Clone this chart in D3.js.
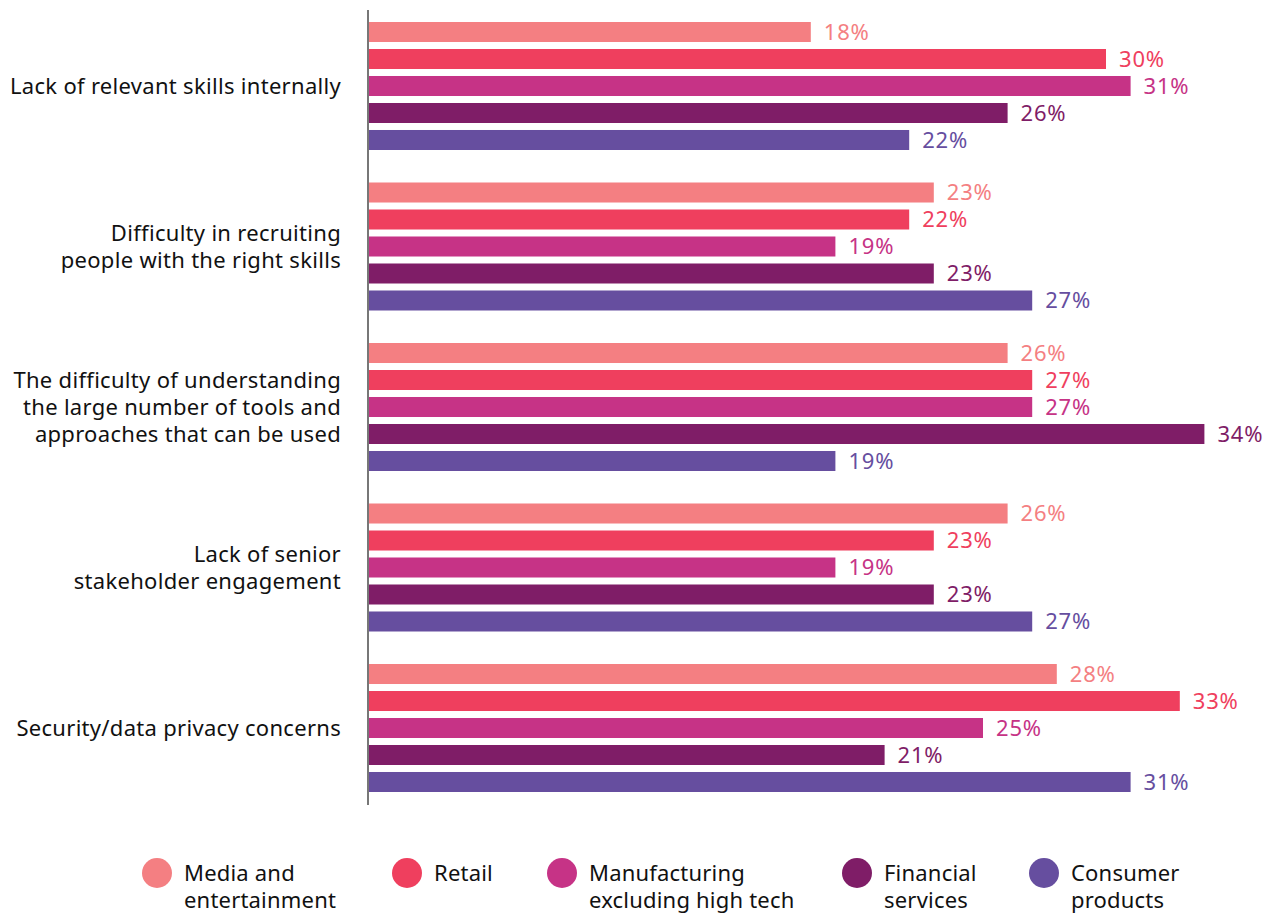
<!DOCTYPE html>
<html>
<head>
<meta charset="utf-8">
<script src="https://cdn.jsdelivr.net/npm/d3@7"></script>
<style>
  body { margin: 0; background: #fff; }
  svg text { font-family: "Noto Sans", "Open Sans", sans-serif; }
</style>
</head>
<body>
<svg id="chart" width="1270" height="913"></svg>
<script>
// categories (each label split into lines as in the source)
const categories = [
    ["Lack of relevant skills internally"],
    ["Difficulty in recruiting", "people with the right skills"],
    ["The difficulty of understanding", "the large number of tools and", "approaches that can be used"],
    ["Lack of senior", "stakeholder engagement"],
    ["Security/data privacy concerns"]
];
const series = ["Media and entertainment", "Retail", "Manufacturing excluding high tech", "Financial services", "Consumer products"];
const seriesLines = [["Media and", "entertainment"], ["Retail"], ["Manufacturing", "excluding high tech"], ["Financial", "services"], ["Consumer", "products"]];
const colors = ["#f47f82", "#ef3f5e", "#c63386", "#7f1d67", "#664e9f"];

// values in %, one array per series, in category order
const media         = [18, 23, 26, 26, 28];
const retail        = [30, 22, 27, 23, 33];
const manufacturing = [31, 19, 27, 19, 25];
const financial     = [26, 23, 34, 23, 21];
const consumer      = [22, 27, 19, 27, 31];
const values = [media, retail, manufacturing, financial, consumer];

const svg = d3.select("#chart");
const x0 = 368;

const x = d3.scaleLinear().domain([0, 40]).range([x0, x0 + 40 * 24.6]);
const y = d3.scaleBand().domain(d3.range(categories.length)).range([22, 792]).paddingInner(0.2025).paddingOuter(0);
const yi = d3.scaleBand().domain(d3.range(series.length)).range([0, y.bandwidth()]).paddingInner(0.259).paddingOuter(0);
const color = d3.scaleOrdinal().domain(d3.range(series.length)).range(colors);

const rows = [];
categories.forEach((c, ci) => {
    series.forEach((s, si) => rows.push({ci, si, v: values[si][ci]}));
});

const g = svg.append("g");

g.selectAll("rect.bar").data(rows).join("rect")
    .attr("class", "bar")
    .attr("x", x(0))
    .attr("y", d => y(d.ci) + yi(d.si))
    .attr("width", d => x(d.v) - x(0))
    .attr("height", yi.bandwidth())
    .attr("fill", d => color(d.si));

g.selectAll("text.val").data(rows).join("text")
    .attr("class", "val")
    .attr("x", d => x(d.v) + 13)
    .attr("y", d => y(d.ci) + yi(d.si) + yi.bandwidth() / 2)
    .attr("dy", "0.36em")
    .attr("font-size", 22)
    .attr("letter-spacing", 0.8)
    .attr("fill", d => color(d.si))
    .text(d => d.v + "%");

// axis line
svg.append("line")
    .attr("x1", x0).attr("x2", x0)
    .attr("y1", 10).attr("y2", 805)
    .attr("stroke", "#777").attr("stroke-width", 2);

// category labels
const lh = 27;
const cat = svg.selectAll("text.cat").data(categories).join("text")
    .attr("class", "cat")
    .attr("text-anchor", "end")
    .attr("font-size", 22)
    .attr("letter-spacing", 0.3)
    .attr("fill", "#111");
cat.each(function(lines, ci) {
    const cy = y(ci) + y.bandwidth() / 2 - (lines.length - 1) * lh / 2;
    d3.select(this).selectAll("tspan").data(lines).join("tspan")
        .attr("x", 341)
        .attr("y", (d, i) => cy + i * lh)
        .attr("dy", "0.36em")
        .text(d => d);
});

// legend
const legX = [157, 407, 562, 857, 1044];
const leg = svg.selectAll("g.leg").data(series).join("g")
    .attr("class", "leg")
    .attr("transform", (d, i) => `translate(${legX[i]},873)`);
leg.append("circle").attr("r", 15).attr("fill", (d, i) => color(i));
leg.append("text")
    .attr("font-size", 22)
    .attr("letter-spacing", 0.2)
    .attr("fill", "#111")
    .selectAll("tspan").data((d, i) => seriesLines[i]).join("tspan")
    .attr("x", 27)
    .attr("y", (d, i) => i * 27)
    .attr("dy", "0.36em")
    .text(d => d);
</script>
</body>
</html>
